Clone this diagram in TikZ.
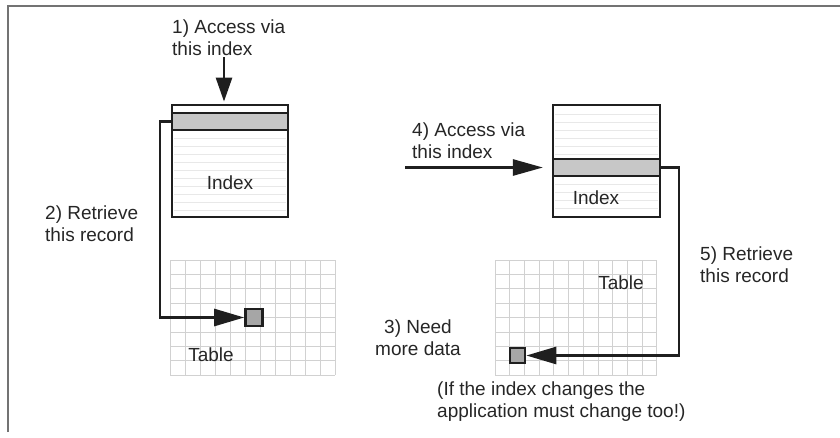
\documentclass[tikz,border=0pt]{standalone}
\usepackage{fontspec}
\setmainfont{Liberation Sans}
\usetikzlibrary{arrows.meta}

\tikzset{
    lbl/.style={align=left, inner sep=0pt, text=black!85, font=\fontsize{19}{22}\selectfont},
    idxbox/.style={draw=black!88, line width=2.8pt, inner sep=0pt},
    recstrip/.style={draw=black!88, line width=2.2pt, fill=black!22, inner sep=0pt},
    cellbox/.style={draw=black!88, line width=2.6pt, fill=black!35, inner sep=0pt, minimum size=15},
    conn/.style={draw=black!88, line width=2.7pt},
    bigtip/.style={-{Triangle[length=30pt,width=17pt]}},
    gridline/.style={draw=black!18, line width=0.7pt},
    ruleline/.style={draw=black!9, line width=0.6pt}
}

\begin{document}
\begin{tikzpicture}[x=1pt, y=-1pt]
    \useasboundingbox (0,0) rectangle (840,437);
    % frame
    \draw[black!55, line width=1.2pt] (8,432) -- (8,6) -- (840,6);

    % tables
    \foreach \xx in {170,185,...,335} \draw[gridline] (\xx,260) -- (\xx,375);
    \foreach \yy in {260,274.4,...,376} \draw[gridline] (170,\yy) -- (335,\yy);
    \foreach \xx in {495,509.7,...,658} \draw[gridline] (\xx,260) -- (\xx,375);
    \foreach \yy in {260,274.4,...,376} \draw[gridline] (495,\yy) -- (657,\yy);
    \node[lbl, anchor=center] (ltab) at (211,355) {Table};
    \node[lbl, anchor=center] (rtab) at (621,283) {Table};

    % index boxes
    \foreach \yy in {138,146,...,212} \draw[ruleline] (174,\yy) -- (286,\yy);
    \foreach \yy in {114,122,...,156} \draw[ruleline] (555,\yy) -- (658,\yy);
    \foreach \yy in {184,192,...,212} \draw[ruleline] (555,\yy) -- (658,\yy);
    \node[idxbox, minimum width=116, minimum height=112] (lidx) at (230,161) {};
    \node[recstrip, minimum width=116, minimum height=17] (lrec) at (230,121.5) {};
    \node[idxbox, minimum width=107, minimum height=112] (ridx) at (606.5,161) {};
    \node[recstrip, minimum width=107, minimum height=17] (rrec) at (606.5,167.5) {};
    \node[lbl, anchor=center] (lidxlab) at (230,183) {Index};
    \node[lbl, anchor=center] (ridxlab) at (596,198) {Index};

    % records
    \node[cellbox, minimum size=17] (lcell) at (254,317.5) {};
    \node[cellbox] (rcell) at (517.5,355.5) {};

    % labels
    \node[lbl, anchor=west] (acc1) at (172,38) {1) Access via\\this index};
    \node[lbl, anchor=west] (ret2) at (45,224) {2) Retrieve\\this record};
    \node[lbl, align=center] (need3) at (418,338) {3) Need\\more data};
    \node[lbl, anchor=west] (acc4) at (412,141) {4) Access via\\this index};
    \node[lbl, anchor=west] (ret5) at (700,265) {5) Retrieve\\this record};
    \node[lbl, anchor=west] (note) at (437,402) {(If the index changes the\\application must change too!)};

    % connectors
    \coordinate (down1) at (224,57);
    \coordinate (in4) at (405,167.5);
    \draw[conn, -{Triangle[length=24pt,width=16pt]}, shorten >=2pt] (down1) -- (down1 |- lidx.north);
    \draw[conn, -{Triangle[length=30pt,width=16pt]}, shorten >=9pt] (in4) -- (rrec.west);
    \draw[conn, bigtip] (lrec.west) -- ++(-11,0) |- (lcell.west);
    \draw[conn, bigtip] (rrec.east) -- ++(18,0) |- (rcell.east);
\end{tikzpicture}
\end{document}
